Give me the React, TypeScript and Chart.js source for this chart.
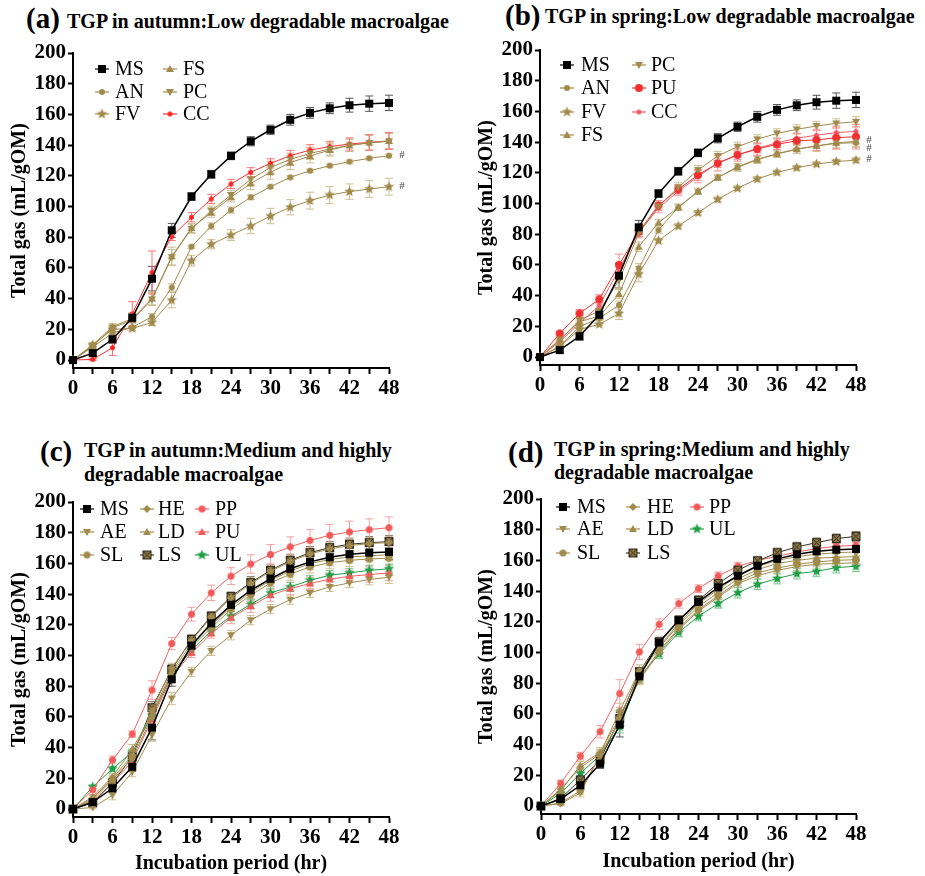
import React, { useEffect, useRef } from 'react';
import { Chart, registerables } from 'chart.js';
Chart.register(...registerables);

// ---------- data ----------
const hours = [0, 3, 6, 9, 12, 15, 18, 21, 24, 27, 30, 33, 36, 39, 42, 45, 48];
const xLabelValues = [0, 6, 12, 18, 24, 30, 36, 42, 48];
const yTickValues = [0, 20, 40, 60, 80, 100, 120, 140, 160, 180, 200];

const msVals = [0, 4.5, 13.5, 27.5, 53, 84.5, 106.5, 121, 133, 142.5, 150, 156.5, 161, 164, 166, 167, 167.5];
const msErr = [0, 1.5, 2.5, 3, 8, 4.5, 2.5, 2.5, 2.5, 3, 3, 3.5, 3.5, 3.5, 4.5, 5, 5];

// (a) autumn, low degradable
const aAN = [0, 8.5, 17.5, 21.3, 28.2, 47.3, 73.8, 87.3, 97.7, 106, 112.9, 119, 123.3, 126.6, 129.2, 131.4, 133.1];
const aANErr = [0, 1, 1, 1, 2, 2.5, 1, 2, 2, 1.5, 1, 1, 1, 1, 1, 1, 1];
const aFV = [0, 9.8, 20, 20.6, 24.5, 39, 64.7, 75.4, 81.4, 87.3, 93.8, 99.5, 103.8, 107.5, 109.7, 111.4, 112.9];
const aFVErr = [0, 1, 1.5, 1.5, 2, 5, 3.5, 3, 3.5, 5, 5, 5, 5.5, 5.5, 5, 5.5, 5.5];
const aFS = [0, 10, 21.7, 27, 40, 67.5, 86, 96, 106, 115, 122.3, 128.6, 132.9, 136.8, 139.8, 141.6, 142.7];
const aFSErr = [0, 1.5, 2, 2, 4, 6, 3, 3, 3, 4, 4.5, 4.5, 4.5, 4, 4, 5, 5];
const aPC = [0, 9, 21, 26, 39.5, 67, 85.5, 97.3, 107.5, 117.7, 125.5, 130.7, 134.6, 137.5, 139.8, 141.4, 142.5];
const aPCErr = [0, 1.5, 2, 2, 4, 5, 3, 3, 3, 3.5, 4, 4, 4, 4, 4, 5, 5];
const aCC = [0, 0.4, 8, 30, 57, 80.3, 93, 104.9, 114.7, 122.3, 128.1, 133.1, 136.8, 139, 140.7, 141.8, 142.7];
const aCCErr = [0, 0.5, 5, 8, 14, 2.5, 3, 3, 3, 3, 3, 3.5, 3.5, 3.5, 4, 5, 5.5];
const aHashValues = [133.3, 113.3];

// (b) spring, low degradable
const bAN = [0, 7.2, 19.8, 25.2, 33.9, 57.8, 82.7, 97.5, 107.7, 116.8, 124, 128.8, 132.2, 135.3, 137.5, 139.2, 139.6];
const bANErr = [0, 1, 1.5, 1.5, 2.5, 3, 2, 2, 1.5, 1.5, 2, 2, 2, 2.5, 3, 3, 3];
const bFV = [0, 6.7, 18, 21.3, 28.4, 54, 75.8, 85.3, 94, 102.7, 109.9, 116, 120.3, 123.3, 125.7, 127.3, 128.3];
const bFVErr = [0, 1, 1, 1, 4, 5, 1.5, 1.5, 1.5, 1.5, 1.5, 1.5, 1.5, 1.5, 1.5, 1.5, 1.5];
const bFS = [0, 11.5, 23, 26.7, 41, 71.9, 87.5, 97.5, 108, 117, 123.5, 128.5, 132.5, 135.5, 137.5, 139.5, 140.5];
const bFSErr = [0, 1.5, 2, 2, 3, 3, 2, 2, 2, 2, 2.5, 2.5, 2.5, 3, 3.5, 3.5, 3.5];
const bPC = [0, 11, 24, 30, 50, 80.6, 98, 110.5, 121.8, 131, 137, 141.8, 145.7, 148.3, 150.5, 152.2, 153.3];
const bPCErr = [0, 1.5, 2, 2, 5, 3, 2.5, 3, 3, 3, 3, 3, 3, 3, 3, 3, 3.5];
const bPU = [0, 15.4, 28.4, 37.6, 60, 81.6, 98.8, 109.2, 118.6, 126.2, 131.6, 135.5, 138.5, 140.9, 141.4, 142.9, 143.5];
const bPUErr = [0, 1, 2.5, 3, 7, 3, 3, 3, 3.5, 5, 4, 4, 3.5, 5, 7, 7.5, 8];
const bCC = [0, 10, 22, 33.5, 57, 81, 97, 108, 117.5, 126.5, 131.7, 136, 139.5, 142.5, 144.5, 146.2, 147];
const bCCErr = [0, 1, 1.5, 2, 3, 3, 3, 3, 4, 3, 3, 3, 3, 3, 3, 3, 3];
const bHashValues = [141.4, 136.4, 128.9];

// (c) autumn, medium and highly degradable
const cAE = [0, 1, 9, 24, 48.2, 72, 89.4, 103, 113.2, 123, 130.2, 136.4, 140.8, 144.7, 147.3, 149.5, 151];
const cAEErr = [0, 1, 3, 3, 4, 4, 3, 3, 3, 3, 3, 3, 3, 3, 3, 3.5, 4];
const cSL = [0, 6, 19, 33, 60, 88, 105.5, 118.2, 130, 139.3, 147.3, 153, 157.7, 160.5, 162, 162.9, 163.4];
const cSLErr = [0, 1, 2, 3, 4, 3, 3, 3, 3, 4, 4, 4, 4, 4, 4, 4, 4];
const cHE = [0, 7, 20, 35, 64, 92, 109.5, 125, 137.5, 146.8, 154.8, 161.2, 166.2, 169.4, 171.6, 172.9, 173.6];
const cHEErr = [0, 1.5, 2, 3, 4, 3, 3, 3, 3, 4, 4, 4, 4, 4, 4, 4, 4];
const cLD = [0, 8, 21, 39, 62, 89.5, 107.8, 119.7, 131.7, 141, 149, 155, 159.9, 162.5, 164.2, 164.9, 165.7];
const cLDErr = [0, 1, 2, 3, 5, 3, 3, 3, 3, 4, 4, 4, 4, 4, 4, 4, 4];
const cLS = [0, 4, 17, 34, 66, 91, 110.5, 125.6, 138.4, 147.5, 155.5, 162, 167, 170.3, 172.5, 173.5, 174.2];
const cLSErr = [0, 1.5, 2, 3, 4, 3, 3, 3, 3, 4, 4, 4, 4, 4, 4, 4, 4];
const cPP = [0, 12.5, 32, 48.8, 77.5, 107.8, 126.9, 140.8, 151.7, 159.6, 165.8, 170.8, 175, 178.3, 180.5, 182, 183.3];
const cPPErr = [0, 3, 2.5, 2, 6, 4, 4.5, 5, 5.5, 6, 6.5, 6.5, 7, 7, 7, 7, 7];
const cPU = [0, 5, 17, 31, 58.4, 86, 101.7, 114.3, 124.7, 132.1, 139.3, 143.6, 146.9, 149.7, 151.6, 152.7, 153.8];
const cPUErr = [0, 1, 2, 3, 4, 3, 3, 3, 4, 4, 4, 4, 4, 4, 4, 5, 5];
const cUL = [0, 14.5, 26.2, 37, 61, 87.2, 103.5, 116, 125.6, 133.4, 140.8, 144.7, 149, 152.3, 153.8, 155.5, 156.5];
const cULErr = [0, 1, 1.5, 2, 3, 3, 3, 3, 3, 3, 3, 3, 3, 3, 3, 3, 3];

// (d) spring, medium and highly degradable
const dAE = [0, 1.5, 8.5, 33, 55, 82, 100, 115, 127, 136, 145, 150, 153.5, 156, 157.5, 158, 158.5];
const dAEErr = [0, 1, 2.5, 3, 4, 3, 2.5, 2.5, 2.5, 2.5, 2.5, 2.5, 2.5, 2.5, 2.5, 2.5, 2.5];
const dSL = [0, 2, 10, 33, 56, 83, 101, 116, 128, 137, 146, 152, 155, 157.5, 159, 160, 160.5];
const dSLErr = [0, 1, 2.5, 3, 4, 3, 2.5, 2.5, 2.5, 2.5, 2.5, 2.5, 2.5, 2.5, 2.5, 2.5, 2.5];
const dHE = [0, 11, 25, 34, 62, 88, 104, 119, 132, 141, 150, 156, 160, 162.5, 164, 165, 165.5];
const dHEErr = [0, 1.5, 2.5, 3, 5, 4, 3, 3, 3, 3, 3, 3, 3, 3, 3, 3, 3];
const dLD = [0, 10, 26.5, 35, 58, 86, 103, 118, 130, 139, 148, 154, 158, 160, 161.5, 162, 162.5];
const dLDErr = [0, 1.5, 2.5, 3, 5, 4, 3, 3, 3, 3, 3, 3, 3, 3, 3, 3, 3];
const dLS = [0, 5, 17, 30, 57, 87.4, 107, 121, 134, 144.9, 153.6, 159.7, 165, 168.8, 171.6, 174.2, 175.7];
const dLSErr = [0, 1, 2, 3, 5, 3, 3, 3, 3, 3, 3, 3, 3, 3, 3, 3, 3];
const dPP = [0, 14.8, 32.5, 48.4, 73.3, 100.4, 118.4, 131.9, 141.6, 149.9, 156.2, 160, 162.7, 165.5, 167.7, 169.2, 169.8];
const dPPErr = [0, 2, 2.5, 4, 9, 5, 3.5, 3, 2.5, 2.5, 2.5, 2.5, 2, 2, 2, 2, 2];
const dUL = [0, 8.2, 21.3, 33, 51.6, 84, 99, 113.2, 123.6, 131.9, 139, 144.5, 148.2, 151.4, 152.9, 155.3, 156.2];
const dULErr = [0, 1, 2, 2, 4, 3, 3, 3, 3, 3, 3.5, 3.5, 3.5, 3.5, 3.5, 3.5, 3.5];

// ---------- styles ----------
const TAN = '#a08a4c';
const TAN_ERR = '#cdbf92';
const BLACK_ERR = '#555555';
const FONT = '"Liberation Serif", "Times New Roman", serif';

type Series = {
  label: string; values: number[]; errors: number[];
  shape: string; color: string; line: string; size: number; errColor: string; lw?: number; stroke?: string;
};

const ms = (): Series => ({ label: 'MS', values: msVals, errors: msErr, shape: 'square', color: '#000', line: '#000', size: 8, errColor: BLACK_ERR, lw: 1.5 });
const tan = (label: string, values: number[], errors: number[], shape: string, size: number): Series =>
  ({ label, values, errors, shape, color: TAN, line: TAN, size, errColor: TAN_ERR });

function makeMarker(shape: string, fill: string, size: number, stroke?: string): HTMLCanvasElement {
  const s = Math.ceil(size + 4);
  const c = document.createElement('canvas');
  c.width = s; c.height = s;
  const g = c.getContext('2d')!;
  const cx = s / 2, cy = s / 2, r = size / 2;
  g.fillStyle = fill;
  g.beginPath();
  if (shape === 'square' || shape === 'squareX') {
    g.rect(cx - r, cy - r, size, size);
  } else if (shape === 'circle') {
    g.arc(cx, cy, r, 0, Math.PI * 2);
  } else if (shape === 'triUp') {
    g.moveTo(cx, cy - r); g.lineTo(cx + r, cy + r * 0.75); g.lineTo(cx - r, cy + r * 0.75); g.closePath();
  } else if (shape === 'triDown') {
    g.moveTo(cx, cy + r); g.lineTo(cx + r, cy - r * 0.75); g.lineTo(cx - r, cy - r * 0.75); g.closePath();
  } else if (shape === 'diamond') {
    g.moveTo(cx, cy - r); g.lineTo(cx + r, cy); g.lineTo(cx, cy + r); g.lineTo(cx - r, cy); g.closePath();
  } else if (shape === 'star') {
    for (let k = 0; k < 10; k++) {
      const a = -Math.PI / 2 + (k * Math.PI) / 5;
      const rr = k % 2 ? r * 0.45 : r;
      const px = cx + rr * Math.cos(a), py = cy + rr * Math.sin(a);
      if (k === 0) g.moveTo(px, py); else g.lineTo(px, py);
    }
    g.closePath();
  }
  g.fill();
  if (shape === 'squareX') {
    g.strokeStyle = stroke || '#333';
    g.lineWidth = 1;
    g.strokeRect(cx - r + 0.5, cy - r + 0.5, size - 1, size - 1);
    g.beginPath();
    g.moveTo(cx - r + 1, cy - r + 1); g.lineTo(cx + r - 1, cy + r - 1);
    g.moveTo(cx + r - 1, cy - r + 1); g.lineTo(cx - r + 1, cy + r - 1);
    g.stroke();
  }
  return c;
}

type PanelCfg = {
  left: number; top: number; w: number; h: number;
  yWidth: number; xHeight: number; padTop: number; padRight: number;
  yTitlePad: number; xTitle: boolean; xTitlePad: number;
  series: Series[];
  legendCols: string[][]; legendMarkerX: number[]; legendTextX: number[]; legendRowY: number[];
  hashValues: number[];
};

const errorBarPlugin = {
  id: 'errorBars',
  beforeDatasetsDraw(chart: any) {
    const { ctx } = chart;
    const xs = chart.scales.x, ys = chart.scales.y;
    ctx.save();
    chart.data.datasets.forEach((ds: any) => {
      ctx.strokeStyle = ds.errColor;
      ctx.lineWidth = 1;
      ds.data.forEach((p: any, i: number) => {
        const e = ds.errors[i];
        if (!e) return;
        const x = xs.getPixelForValue(p.x);
        const y1 = ys.getPixelForValue(p.y + e);
        const y2 = ys.getPixelForValue(p.y - e);
        ctx.beginPath();
        ctx.moveTo(x, y1); ctx.lineTo(x, y2);
        ctx.moveTo(x - 4, y1); ctx.lineTo(x + 4, y1);
        ctx.moveTo(x - 4, y2); ctx.lineTo(x + 4, y2);
        ctx.stroke();
      });
    });
    ctx.restore();
  },
};

function makeLegendPlugin(cfg: PanelCfg) {
  return {
    id: 'panelLegend',
    afterDatasetsDraw(chart: any) {
      const { ctx, chartArea } = chart;
      ctx.save();
      ctx.font = `20px ${FONT}`;
      ctx.textBaseline = 'middle';
      ctx.textAlign = 'left';
      cfg.legendCols.forEach((col, ci) => {
        col.forEach((label, ri) => {
          const ds = chart.data.datasets.find((d: any) => d.label === label);
          if (!ds) return;
          const y = chartArea.top + cfg.legendRowY[ri];
          const mx = chartArea.left + cfg.legendMarkerX[ci];
          ctx.strokeStyle = ds.borderColor;
          ctx.lineWidth = 1.2;
          ctx.beginPath();
          ctx.moveTo(mx - 7, y); ctx.lineTo(mx + 7, y);
          ctx.stroke();
          const img = ds.pointStyle as HTMLCanvasElement;
          ctx.drawImage(img, mx - img.width / 2, y - img.height / 2);
          ctx.fillStyle = '#000';
          ctx.fillText(label, chartArea.left + cfg.legendTextX[ci], y + 1);
        });
      });
      ctx.restore();
    },
  };
}

function makeHashPlugin(cfg: PanelCfg) {
  return {
    id: 'hashMarks',
    afterDatasetsDraw(chart: any) {
      const { ctx } = chart;
      const xs = chart.scales.x, ys = chart.scales.y;
      ctx.save();
      ctx.font = `11px ${FONT}`;
      ctx.fillStyle = '#444';
      ctx.textAlign = 'center';
      ctx.textBaseline = 'middle';
      cfg.hashValues.forEach((v) => {
        ctx.fillText('#', xs.getPixelForValue(48) + 13, ys.getPixelForValue(v));
      });
      ctx.restore();
    },
  };
}

function Panel({ cfg }: { cfg: PanelCfg }) {
  const ref = useRef<HTMLCanvasElement>(null);
  useEffect(() => {
    const datasets = cfg.series.map((s) => ({
      label: s.label,
      data: hours.map((h, i) => ({ x: h, y: s.values[i] })),
      errors: s.errors,
      errColor: s.errColor,
      borderColor: s.line,
      backgroundColor: s.color,
      borderWidth: s.lw || 1,
      pointStyle: makeMarker(s.shape, s.color, s.size, s.stroke),
      pointRadius: 4,
      pointHoverRadius: 4,
      tension: 0,
      clip: false as any,
    }));
    const tickFont = { family: FONT, size: 21, weight: 'bold' as const };
    const titleFont = { family: FONT, size: 20, weight: 'bold' as const };
    const chart = new Chart(ref.current!, {
      type: 'line',
      data: { datasets: datasets as any },
      options: {
        responsive: false,
        animation: false,
        events: [],
        layout: { padding: { top: cfg.padTop, right: cfg.padRight, left: 0, bottom: 0 } },
        plugins: { legend: { display: false }, tooltip: { enabled: false } },
        scales: {
          x: {
            type: 'linear', min: 0, max: 48,
            afterBuildTicks: (s: any) => { s.ticks = hours.map((v) => ({ value: v })); },
            afterFit: (s: any) => { s.height = cfg.xHeight; },
            ticks: {
              autoSkip: false, maxRotation: 0, padding: 2, color: '#000', font: tickFont,
              callback: (v: any) => (xLabelValues.includes(Number(v)) ? String(v) : ''),
            },
            grid: { drawOnChartArea: false, drawTicks: true, tickLength: 6, tickWidth: 2, tickColor: '#000' },
            border: { display: true, width: 2, color: '#000' },
            title: { display: cfg.xTitle, text: 'Incubation period (hr)', color: '#000', font: titleFont, padding: { top: 0, bottom: cfg.xTitlePad } },
          },
          y: {
            type: 'linear', min: -5.2, max: 200,
            afterBuildTicks: (s: any) => { s.ticks = yTickValues.map((v) => ({ value: v })); },
            afterFit: (s: any) => { s.width = cfg.yWidth; },
            ticks: { padding: 2, color: '#000', font: tickFont },
            grid: { drawOnChartArea: false, drawTicks: true, tickLength: 5, tickWidth: 2, tickColor: '#000' },
            border: { display: true, width: 2, color: '#000' },
            title: { display: true, text: 'Total gas (mL/gOM)', color: '#000', font: titleFont, padding: { top: cfg.yTitlePad, bottom: 0 } },
          },
        },
      },
      plugins: [errorBarPlugin, makeLegendPlugin(cfg), makeHashPlugin(cfg)],
    });
    return () => chart.destroy();
  }, []);
  return (
    <canvas
      ref={ref}
      width={cfg.w}
      height={cfg.h}
      style={{ position: 'absolute', left: cfg.left, top: cfg.top, width: cfg.w, height: cfg.h }}
    />
  );
}

const panelA: PanelCfg = {
  left: 0, top: 30, w: 460, h: 400, yWidth: 73, xHeight: 62, padTop: 23, padRight: 71,
  yTitlePad: 8, xTitle: false, xTitlePad: 0,
  series: [
    ms(),
    tan('AN', aAN, aANErr, 'circle', 6),
    tan('FV', aFV, aFVErr, 'star', 11),
    tan('FS', aFS, aFSErr, 'triUp', 8),
    tan('PC', aPC, aPCErr, 'triDown', 8),
    { label: 'CC', values: aCC, errors: aCCErr, shape: 'circle', color: '#ff2222', line: '#ff3030', size: 5, errColor: '#ff7070' },
  ],
  legendCols: [['MS', 'AN', 'FV'], ['FS', 'PC', 'CC']],
  legendMarkerX: [29, 97], legendTextX: [42, 110], legendRowY: [16, 39, 61],
  hashValues: aHashValues,
};

const panelB: PanelCfg = {
  left: 460, top: 30, w: 465, h: 400, yWidth: 80, xHeight: 65, padTop: 20, padRight: 69,
  yTitlePad: 15, xTitle: false, xTitlePad: 0,
  series: [
    ms(),
    tan('AN', bAN, bANErr, 'circle', 6),
    tan('FV', bFV, bFVErr, 'star', 11),
    tan('FS', bFS, bFSErr, 'triUp', 8),
    tan('PC', bPC, bPCErr, 'triDown', 8),
    { label: 'PU', values: bPU, errors: bPUErr, shape: 'circle', color: '#f03030', line: '#f03030', size: 8, errColor: '#f58a8a' },
    { label: 'CC', values: bCC, errors: bCCErr, shape: 'circle', color: '#f25a66', line: '#f25a66', size: 5, errColor: '#f59aa0' },
  ],
  legendCols: [['MS', 'AN', 'FV', 'FS'], ['PC', 'PU', 'CC']],
  legendMarkerX: [27, 99], legendTextX: [41, 111], legendRowY: [15, 38, 62, 85],
  hashValues: bHashValues,
};

const panelC: PanelCfg = {
  left: 0, top: 476, w: 460, h: 400, yWidth: 73, xHeight: 59, padTop: 26, padRight: 71,
  yTitlePad: 8, xTitle: true, xTitlePad: 0,
  series: [
    ms(),
    tan('AE', cAE, cAEErr, 'triDown', 8),
    tan('SL', cSL, cSLErr, 'circle', 7),
    tan('HE', cHE, cHEErr, 'diamond', 8),
    tan('LD', cLD, cLDErr, 'triUp', 8),
    { label: 'LS', values: cLS, errors: cLSErr, shape: 'squareX', color: '#8d7744', line: '#3a3320', size: 9, errColor: '#8a8170', stroke: '#2e2a1e' },
    { label: 'PP', values: cPP, errors: cPPErr, shape: 'circle', color: '#f25a5a', line: '#f26060', size: 7, errColor: '#f5a0a0' },
    { label: 'PU', values: cPU, errors: cPUErr, shape: 'triUp', color: '#f25a5a', line: '#f26060', size: 8, errColor: '#f5a0a0' },
    { label: 'UL', values: cUL, errors: cULErr, shape: 'star', color: '#1f9e46', line: '#1f9e46', size: 11, errColor: '#7cc690' },
  ],
  legendCols: [['MS', 'AE', 'SL'], ['HE', 'LD', 'LS'], ['PP', 'PU', 'UL']],
  legendMarkerX: [14, 74, 129], legendTextX: [27, 85, 142], legendRowY: [7, 30, 53],
  hashValues: [],
};

const panelD: PanelCfg = {
  left: 460, top: 476, w: 465, h: 400, yWidth: 81, xHeight: 62, padTop: 23, padRight: 69,
  yTitlePad: 15, xTitle: true, xTitlePad: 2,
  series: [
    ms(),
    tan('AE', dAE, dAEErr, 'triDown', 8),
    tan('SL', dSL, dSLErr, 'circle', 7),
    tan('HE', dHE, dHEErr, 'diamond', 8),
    tan('LD', dLD, dLDErr, 'triUp', 8),
    { label: 'LS', values: dLS, errors: dLSErr, shape: 'squareX', color: '#8d7744', line: '#3a3320', size: 9, errColor: '#8a8170', stroke: '#2e2a1e' },
    { label: 'PP', values: dPP, errors: dPPErr, shape: 'circle', color: '#f25a5a', line: '#f26060', size: 7, errColor: '#f5a0a0' },
    { label: 'UL', values: dUL, errors: dULErr, shape: 'star', color: '#1f9e46', line: '#1f9e46', size: 11, errColor: '#7cc690' },
  ],
  legendCols: [['MS', 'AE', 'SL'], ['HE', 'LD', 'LS'], ['PP', 'UL']],
  legendMarkerX: [22, 92, 156], legendTextX: [36, 106, 168], legendRowY: [8, 30, 54],
  hashValues: [],
};

const txt = (left: number, top: number, size: number, lh?: number): React.CSSProperties => ({
  position: 'absolute', left, top, fontFamily: FONT, fontWeight: 'bold', fontSize: size,
  lineHeight: lh ? `${lh}px` : 1, whiteSpace: 'nowrap', color: '#000',
});

export default function App() {
  return (
    <div style={{ position: 'absolute', left: 0, top: 0, width: 925, height: 876, background: '#fff', overflow: 'hidden' }}>
      <div style={txt(26, 4, 29)}>(a)</div>
      <div style={txt(67, 11, 20)}>TGP in autumn:Low degradable macroalgae</div>
      <div style={txt(505, 1, 29)}>(b)</div>
      <div style={txt(545, 6, 20)}>TGP in spring:Low degradable macroalgae</div>
      <div style={txt(40, 437, 29)}>(c)</div>
      <div style={txt(84, 438, 20, 24)}>TGP in autumn:Medium and highly<br />degradable macroalgae</div>
      <div style={txt(508, 438, 29)}>(d)</div>
      <div style={txt(554, 438, 20, 23)}>TGP in spring:Medium and highly<br />degradable macroalgae</div>
      <Panel cfg={panelA} />
      <Panel cfg={panelB} />
      <Panel cfg={panelC} />
      <Panel cfg={panelD} />
    </div>
  );
}
